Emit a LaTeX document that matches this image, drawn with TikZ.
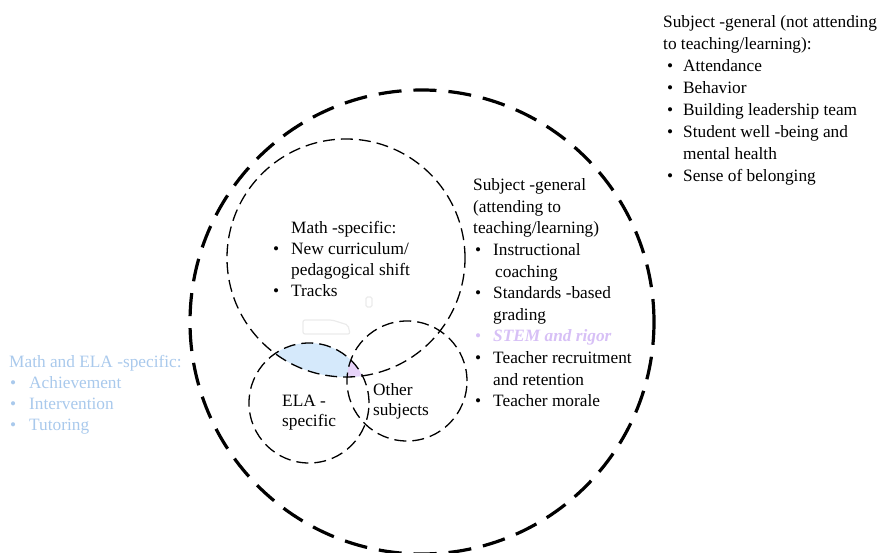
\documentclass[tikz,border=0pt]{standalone}
\usepackage{fontspec}
\setmainfont{Liberation Serif}
\definecolor{lensblue}{HTML}{D5E9FB}
\definecolor{lenslav}{HTML}{E7D3F9}
\definecolor{txtblue}{HTML}{A9C9EC}
\definecolor{txtlav}{HTML}{D7C0F6}
\definecolor{ghost}{HTML}{EBEBEB}
% bullet in a 20pt wide box, shifted by the optional amount
\newcommand\bul[1][2pt]{\makebox[20pt][l]{\hspace{#1}\textbullet}}
\tikzset{
  bigring/.style={line width=3.2pt, dash pattern=on 23pt off 12pt},
  ring/.style={line width=1.3pt, dash pattern=on 12pt off 6pt},
  txt/.style={inner sep=0pt, anchor=base west},
  ghostline/.style={draw=ghost, line width=1.2pt},
}
\begin{document}
\begin{tikzpicture}[x=1pt, y=-1pt]
\useasboundingbox (0,0) rectangle (878,553);

% circle centres
\coordinate (allc) at (422,322);
\coordinate (mathc) at (346,258);
\coordinate (elac) at (309,403);
\coordinate (othc) at (407,381);

% shared area of the math and ELA circles
\begin{scope}
  \clip (mathc) circle[radius=119pt];
  \clip (elac) circle[radius=60pt];
  \fill[lensblue] (elac) circle[radius=60pt];
  \clip (othc) circle[radius=60pt];
  \fill[lenslav] (elac) circle[radius=60pt];
\end{scope}

% faint empty boxes
\draw[ghostline, rounded corners=2pt] (303,320) -- (332,320) -- (348,325) -- (350,334) -- (303,334) -- cycle;
\draw[ghostline, rounded corners=1.5pt] (366,297) rectangle (372,307);

% outlines
\draw[bigring] (allc) circle[radius=232pt];
\draw[ring] (mathc) circle[radius=119pt];
\draw[ring] (elac) circle[radius=60pt];
\draw[ring] (othc) circle[radius=60pt];

% texts
\node[txt, font=\fontsize{17.3}{22}\selectfont] (gen) at (663,27.5) {%
\begin{tabular}[t]{@{}l@{}}
Subject -general (not attending\\
to teaching/learning):\\
\bul[4pt]Attendance\\
\bul[4pt]Behavior\\
\bul[4pt]Building leadership team\\
\bul[4pt]Student well -being and\\
\hspace{20pt}mental health\\
\bul[4pt]Sense of belonging
\end{tabular}};

\node[txt, font=\fontsize{17.3}{21.6}\selectfont] (teach) at (473,190.7) {%
\begin{tabular}[t]{@{}l@{}}
Subject -general\\
(attending to\\
teaching/learning)\\
\bul Instructional\\
\hspace{22pt}coaching\\
\bul Standards -based\\
\hspace{20pt}grading\\
{\color{txtlav}\bul\bfseries\itshape STEM and rigor}\\
\bul Teacher recruitment\\
\hspace{20pt}and retention\\
\bul Teacher morale
\end{tabular}};

\node[txt, font=\fontsize{17.3}{21}\selectfont] (math) at (291,233.3) {%
\begin{tabular}[t]{@{}l@{}}
Math -specific:\\
\llap{\textbullet\hspace{12pt}}New curriculum/\\
pedagogical shift\\
\llap{\textbullet\hspace{12pt}}Tracks
\end{tabular}};

\node[txt, text=txtblue, font=\fontsize{17.3}{21}\selectfont] (both) at (9,367) {%
\begin{tabular}[t]{@{}l@{}}
Math and ELA -specific:\\
\bul[1pt]Achievement\\
\bul[1pt]Intervention\\
\bul[1pt]Tutoring
\end{tabular}};

\node[txt, font=\fontsize{17.3}{20}\selectfont] (ela) at (282,406.5) {%
\begin{tabular}[t]{@{}l@{}}
ELA -\\
specific
\end{tabular}};

\node[txt, font=\fontsize{17.3}{20}\selectfont] (oth) at (373,395) {%
\begin{tabular}[t]{@{}l@{}}
Other\\
subjects
\end{tabular}};
\end{tikzpicture}
\end{document}
